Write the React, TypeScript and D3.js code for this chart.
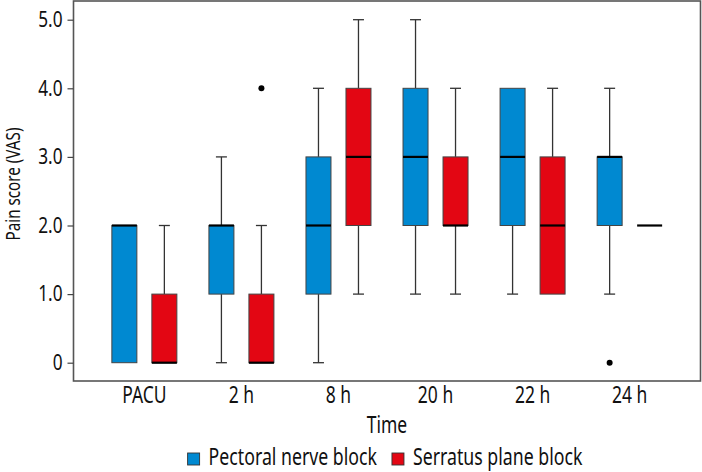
import * as d3 from 'd3';
import React, { useEffect, useRef } from 'react';

const times = ["PACU", "2 h", "8 h", "20 h", "22 h", "24 h"];
const groups = ["Pectoral nerve block", "Serratus plane block"];
const groupColors = ["#0089d1", "#e30613"];

// pectoral nerve block, one value per time point
const pectoralMin = [0, 0, 0, 1, 1, 1];
const pectoralQ1 = [0, 1, 1, 2, 2, 2];
const pectoralMedian = [2, 2, 2, 3, 3, 3];
const pectoralQ3 = [2, 2, 3, 4, 4, 3];
const pectoralMax = [2, 3, 4, 5, 4, 4];
const pectoralOutliers = [{ time: "24 h", value: 0 }];

// serratus plane block
const serratusMin = [0, 0, 1, 1, 1, 2];
const serratusQ1 = [0, 0, 2, 2, 1, 2];
const serratusMedian = [0, 0, 3, 2, 2, 2];
const serratusQ3 = [1, 1, 4, 3, 3, 2];
const serratusMax = [2, 2, 5, 4, 4, 2];
const serratusOutliers = [{ time: "2 h", value: 4 }];

const yTicks = [0, 1, 2, 3, 4, 5];

const FONT = "'Noto Sans', 'Open Sans', sans-serif";

// squeeze text horizontally, the original uses a condensed face
const condense = (sel: any, k: number) => {
    sel.each(function (this: SVGTextElement) {
        const w = this.getComputedTextLength();
        this.setAttribute("textLength", String(w * k));
        this.setAttribute("lengthAdjust", "spacingAndGlyphs");
    });
};

const App = () => {
    const chartArea = useRef(null);
    const width = 702, height = 472;
    const margin = { top: 1, right: 2, bottom: 91, left: 74 };

    useEffect(() => {
        const svg = d3.select(chartArea.current);
        svg.selectAll("*").remove();

        const x = d3.scaleBand()
            .domain(times)
            .range([margin.left, width - margin.right])
            .paddingInner(0)
            .paddingOuter(0.225);

        const sub = d3.scalePoint()
            .domain(groups)
            .range([-20, 20]);

        const y = d3.scaleLinear()
            .domain([0, 5])
            .range([362.7, 19.7]);

        const boxW = 25;

        const series = [
            { name: groups[0], min: pectoralMin, q1: pectoralQ1, med: pectoralMedian, q3: pectoralQ3, max: pectoralMax, out: pectoralOutliers },
            { name: groups[1], min: serratusMin, q1: serratusQ1, med: serratusMedian, q3: serratusQ3, max: serratusMax, out: serratusOutliers },
        ];

        const g = svg.append("g");

        series.forEach((s, si) => {
            const color = groupColors[si];
            times.forEach((t, i) => {
                const cx = (x(t) as number) + x.bandwidth() / 2 + (sub(s.name) as number);
                // whiskers
                const whisk = (from: number, to: number) => {
                    if (from === to) return;
                    g.append("line")
                        .attr("x1", cx).attr("x2", cx)
                        .attr("y1", y(from)).attr("y2", y(to))
                        .attr("stroke", "#333").attr("stroke-width", 1.3);
                    g.append("line")
                        .attr("x1", cx - 5.5).attr("x2", cx + 5.5)
                        .attr("y1", y(to)).attr("y2", y(to))
                        .attr("stroke", "#333").attr("stroke-width", 1.3);
                };
                whisk(s.q3[i], s.max[i]);
                whisk(s.q1[i], s.min[i]);

                if (s.q3[i] !== s.q1[i]) {
                    g.append("rect")
                        .attr("x", cx - boxW / 2)
                        .attr("y", y(s.q3[i]))
                        .attr("width", boxW)
                        .attr("height", y(s.q1[i]) - y(s.q3[i]))
                        .attr("fill", color)
                        .attr("stroke", "#444")
                        .attr("stroke-width", 1);
                }
                g.append("line")
                    .attr("x1", cx - boxW / 2).attr("x2", cx + boxW / 2)
                    .attr("y1", y(s.med[i])).attr("y2", y(s.med[i]))
                    .attr("stroke", "#000").attr("stroke-width", 2.2);
            });
            s.out.forEach(o => {
                const cx = (x(o.time) as number) + x.bandwidth() / 2 + (sub(s.name) as number);
                g.append("circle")
                    .attr("cx", cx).attr("cy", y(o.value))
                    .attr("r", 3).attr("fill", "#000");
            });
        });

        // frame
        svg.append("rect")
            .attr("x", margin.left - 0.5)
            .attr("y", margin.top)
            .attr("width", width - margin.right - margin.left + 1)
            .attr("height", height - margin.bottom - margin.top)
            .attr("fill", "none")
            .attr("stroke", "#555")
            .attr("stroke-width", 1.6);

        // y axis
        const yAxis = svg.append("g")
            .attr("transform", "translate(" + (margin.left - 0.5) + ",0)")
            .call(d3.axisLeft(y).tickValues(yTicks).tickSize(6).tickPadding(5)
                .tickFormat(d => (+d === 0 ? "0" : d3.format(".1f")(+d))));
        yAxis.select(".domain").remove();
        yAxis.selectAll("line").attr("stroke", "#444").attr("stroke-width", 1.2);
        yAxis.selectAll("text")
            .attr("fill", "#111")
            .style("font-family", FONT)
            .style("font-size", "21px");
        condense(yAxis.selectAll("text"), 0.82);

        // x labels
        const xAxis = svg.append("g")
            .attr("transform", "translate(0," + (height - margin.bottom) + ")")
            .call(d3.axisBottom(x).tickSize(0).tickPadding(6));
        xAxis.select(".domain").remove();
        xAxis.selectAll("text")
            .attr("fill", "#111")
            .attr("dy", "0")
            .attr("y", 22)
            .style("font-family", FONT)
            .style("font-size", "23px");
        condense(xAxis.selectAll("text"), 0.76);

        // axis titles
        const tTime = svg.append("text")
            .attr("x", (margin.left + width - margin.right) / 2)
            .attr("y", 433)
            .attr("text-anchor", "middle")
            .style("font-family", FONT)
            .style("font-size", "23px")
            .attr("fill", "#111")
            .text("Time");
        condense(tTime, 0.76);

        const tY = svg.append("text")
            .attr("transform", "translate(20,184) rotate(-90)")
            .attr("text-anchor", "middle")
            .style("font-family", FONT)
            .style("font-size", "19px")
            .attr("fill", "#111")
            .text("Pain score (VAS)");
        condense(tY, 0.8);

        // legend
        const legend = svg.append("g").attr("transform", "translate(0,465)");
        const items = legend.selectAll("g").data(groups).enter().append("g");
        items.append("rect")
            .attr("width", 12).attr("height", 12)
            .attr("y", -12)
            .attr("fill", (d, i) => groupColors[i])
            .attr("stroke", "#333").attr("stroke-width", 0.9);
        const labels = items.append("text")
            .attr("x", 21)
            .style("font-family", FONT)
            .style("font-size", "23px")
            .attr("fill", "#111")
            .text(d => d);
        condense(labels, 0.77);
        // place items side by side, centred under the plot
        const widths: number[] = [];
        labels.each(function () { widths.push(21 + +((this as SVGTextElement).getAttribute("textLength") || 0)); });
        const gap = 15;
        const total = d3.sum(widths) + gap * (widths.length - 1);
        let cursor = 385 - total / 2;
        items.attr("transform", (d, i) => {
            const tx = cursor;
            cursor += widths[i] + gap;
            return "translate(" + tx + ",0)";
        });
    }, []);

    return <svg
        ref={chartArea}
        width={width}
        height={height}
        style={{ position: "absolute", left: 0, top: 0, background: "#fff" }}
    />;
}
export default App;
